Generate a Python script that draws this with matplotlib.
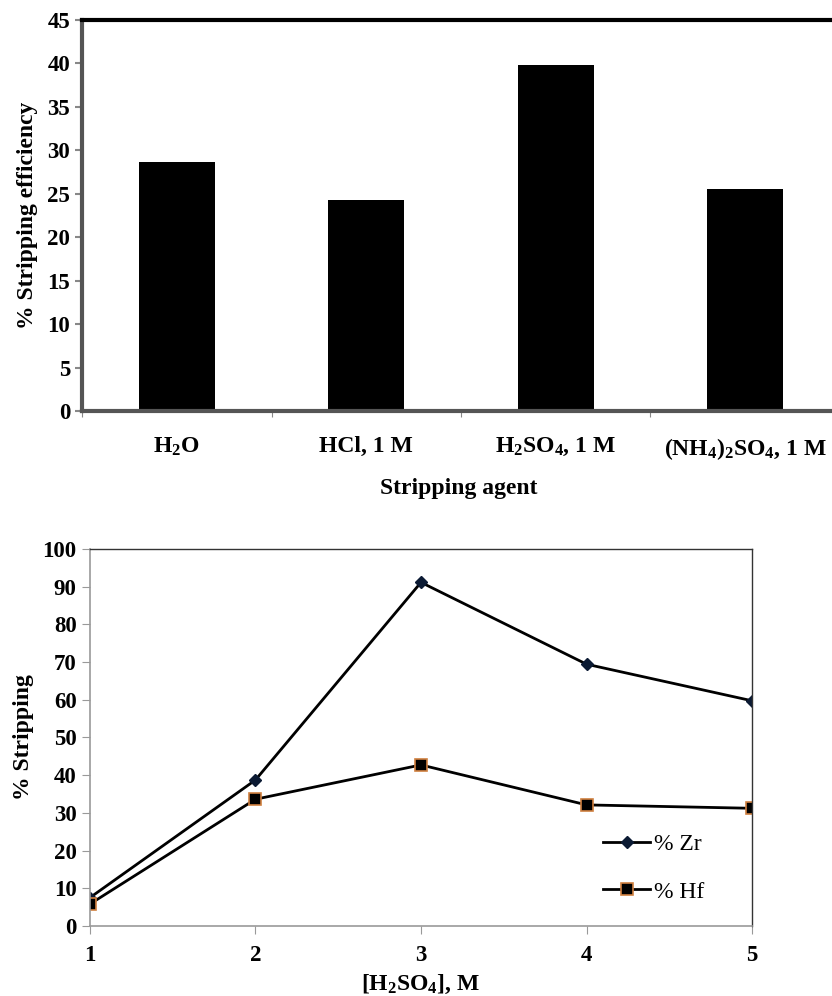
import matplotlib
matplotlib.use("Agg")
import matplotlib.pyplot as plt

plt.rcParams['font.family'] = ['Liberation Serif', 'DejaVu Serif']
plt.rcParams['mathtext.fontset'] = 'custom'
plt.rcParams['mathtext.rm'] = 'Liberation Serif:bold'
plt.rcParams['mathtext.bf'] = 'Liberation Serif:bold'
plt.rcParams['mathtext.default'] = 'bf'

# top chart data
agents = [r'H$_2$O', 'HCl, 1 M', r'H$_2$SO$_4$, 1 M', r'(NH$_4$)$_2$SO$_4$, 1 M']
efficiency = [28.7, 24.3, 39.8, 25.5]

# bottom chart data
acidConc = [1, 2, 3, 4, 5]
zrStrip = [7.5, 38.7, 91.1, 69.4, 59.7]
hfStrip = [5.8, 33.6, 42.7, 32.1, 31.2]

fs = 17

fig = plt.figure(figsize=(8.32, 9.96), dpi=100)

# --- bar chart ---
ax1 = fig.add_axes([0.0986, 0.5873, 0.9110, 0.3927])
pos = range(len(agents))
ax1.bar(pos, efficiency, width=0.4, color='black')
ax1.set_xlim(-0.5, len(agents) - 0.5)
ax1.set_ylim(0, 45)
ax1.set_yticks(range(0, 46, 5))
ax1.set_xticks([p - 0.5 for p in pos])
ax1.set_xticklabels([])
ax1.set_xticks(list(pos), minor=True)
ax1.set_xticklabels(agents, minor=True, fontsize=fs, fontweight='bold')
ax1.tick_params(axis='x', which='minor', length=0, pad=18)
ax1.tick_params(axis='x', which='major', length=4, color='#888888')
ax1.tick_params(axis='y', length=5, color='#888888', width=1.5, labelsize=16.5)
for lbl in ax1.get_yticklabels():
    lbl.set_fontweight('bold')
ax1.spines['top'].set_linewidth(3)
ax1.spines['left'].set_linewidth(3)
ax1.spines['left'].set_color('#555555')
ax1.spines['bottom'].set_linewidth(3)
ax1.spines['bottom'].set_color('#555555')
ax1.spines['right'].set_visible(False)
ax1.set_ylabel('% Stripping efficiency', fontsize=fs, fontweight='bold', labelpad=7)
ax1.set_xlabel('Stripping agent', fontsize=fs, fontweight='bold')
ax1.xaxis.set_label_coords(0.497, -0.17)

# --- line chart ---
ax2 = fig.add_axes([0.108, 0.0703, 0.796, 0.3787])
ax2.plot(acidConc, zrStrip, color='black', lw=2, marker='D', markersize=6,
         markerfacecolor='#0b1a33', markeredgecolor='#0b1a33', label='% Zr')
ax2.plot(acidConc, hfStrip, color='black', lw=2, marker='s', markersize=8.5,
         markerfacecolor='black', markeredgecolor='#d08040', markeredgewidth=1.2,
         label='% Hf')
ax2.set_xlim(1, 5)
ax2.set_ylim(0, 100)
ax2.set_xticks(acidConc)
ax2.set_yticks(range(0, 101, 10))
ax2.tick_params(axis='both', length=6, color='#999999', labelsize=16.5)
ax2.tick_params(axis='x', pad=8)
for lbl in ax2.get_xticklabels() + ax2.get_yticklabels():
    lbl.set_fontweight('bold')
for side in ['left', 'bottom']:
    ax2.spines[side].set_color('#999999')
    ax2.spines[side].set_linewidth(1.2)
for side in ['top', 'right']:
    ax2.spines[side].set_color('#333333')
    ax2.spines[side].set_linewidth(1)
ax2.set_ylabel('% Stripping', fontsize=fs, fontweight='bold', labelpad=6)
ax2.set_xlabel(r'[H$_2$SO$_4$], M', fontsize=fs, fontweight='bold', labelpad=5)
ax2.legend(loc='upper left', bbox_to_anchor=(0.775, 0.245), frameon=False,
           borderpad=0, borderaxespad=0, fontsize=fs, handlelength=2.0,
           labelspacing=1.1, handletextpad=0.15)

fig.savefig('out.png', dpi=100)
